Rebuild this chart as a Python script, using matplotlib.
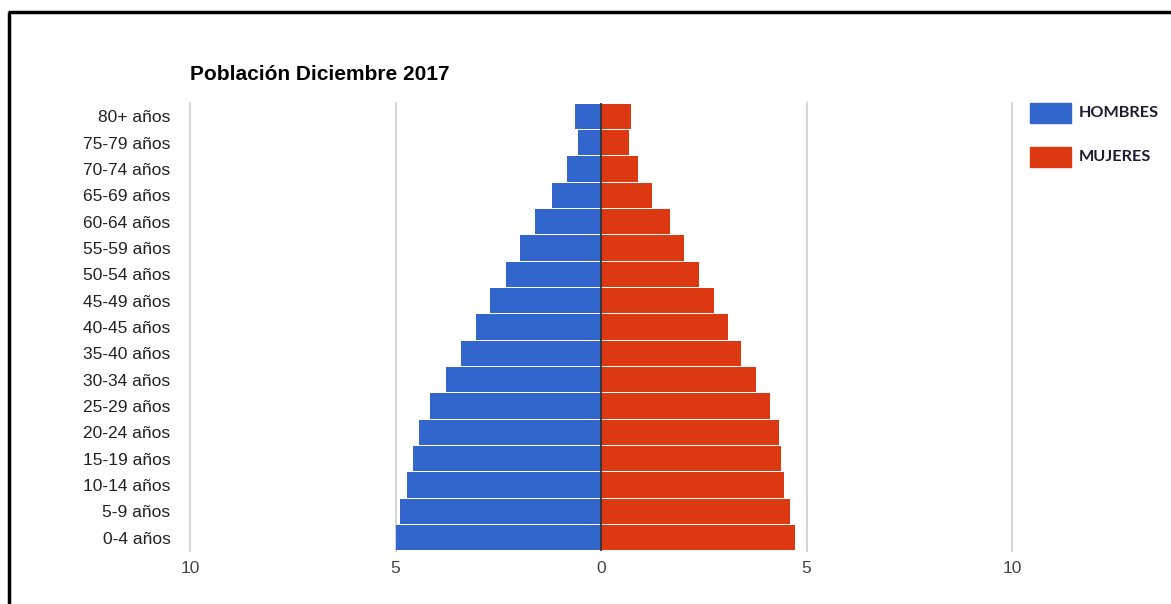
import matplotlib
matplotlib.use('Agg')
import matplotlib.pyplot as plt
from matplotlib.patches import Rectangle
from matplotlib.lines import Line2D

# datos (de arriba a abajo)
age_groups = ['80+ años', '75-79 años', '70-74 años', '65-69 años', '60-64 años',
              '55-59 años', '50-54 años', '45-49 años', '40-45 años', '35-40 años',
              '30-34 años', '25-29 años', '20-24 años', '15-19 años', '10-14 años',
              '5-9 años', '0-4 años']
hombres = [0.63, 0.57, 0.83, 1.20, 1.61, 1.97, 2.32, 2.71, 3.05, 3.41,
           3.78, 4.17, 4.44, 4.58, 4.71, 4.88, 4.98]
mujeres = [0.73, 0.68, 0.90, 1.24, 1.68, 2.02, 2.39, 2.76, 3.10, 3.41,
           3.76, 4.12, 4.32, 4.39, 4.46, 4.61, 4.71]
x_ticks = [-10, -5, 0, 5, 10]
x_tick_labels = ['10', '5', '0', '5', '10']

BLUE = '#3366cc'
RED = '#dc3912'

plt.rcParams['font.family'] = ['Liberation Sans', 'DejaVu Sans']

fig = plt.figure(figsize=(11.71, 6.04), dpi=100)
ax = fig.add_axes([190 / 1171, 53 / 604, 822 / 1171, 448 / 604])

ypos = list(range(len(age_groups)))
ax.barh(ypos, [-v for v in hombres], height=0.96, color=BLUE, zorder=2)
ax.barh(ypos, mujeres, height=0.96, color=RED, zorder=2)

ax.set_xlim(-10, 10)
ax.set_ylim(len(age_groups) - 0.5, -0.5)

for t in x_ticks:
    if t != 0:
        ax.axvline(t, color='#d6d6d6', lw=1.5, zorder=1, clip_on=False)
ax.axvline(0, color='#333333', lw=1.3, zorder=3)

ax.set_xticks(x_ticks)
ax.set_xticklabels(x_tick_labels, fontsize=12.5, color='#444444')
ax.set_yticks(ypos)
ax.set_yticklabels(age_groups, fontsize=12.5, color='#222222')
ax.tick_params(axis='both', length=0)
ax.tick_params(axis='x', pad=7)
ax.tick_params(axis='y', pad=14)
for s in ax.spines.values():
    s.set_visible(False)

fig.text(190 / 1171, 1 - 74 / 604, 'Población Diciembre 2017', fontsize=15,
         fontweight='bold', color='#000000', va='center', ha='left')

# leyenda
legend_items = [('HOMBRES', BLUE, 113), ('MUJERES', RED, 157)]
for label, col, yc in legend_items:
    fig.patches.append(Rectangle((1030 / 1171, 1 - (yc + 10) / 604), 41 / 1171, 20 / 604,
                                 transform=fig.transFigure, color=col))
    fig.text(1079 / 1171, 1 - yc / 604, label, fontsize=11.7, fontweight='bold',
             family=['Lato', 'DejaVu Sans'], color='#1c1c30', va='center', ha='left')

# marco
fig.lines.append(Line2D([7.5 / 1171, 1], [1 - 11.5 / 604, 1 - 11.5 / 604],
                        transform=fig.transFigure, color='black', lw=2.5,
                        solid_capstyle='butt'))
fig.lines.append(Line2D([8.5 / 1171, 8.5 / 1171], [0, 1 - 11.5 / 604],
                        transform=fig.transFigure, color='black', lw=2.5,
                        solid_capstyle='butt'))

fig.savefig('out.png', dpi=100, facecolor='white')
